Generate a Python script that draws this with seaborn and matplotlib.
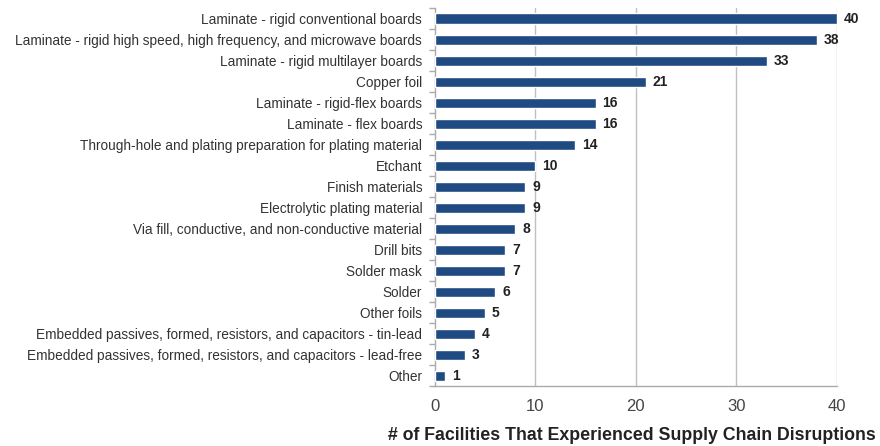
import matplotlib
matplotlib.use("Agg")
import matplotlib.pyplot as plt
import seaborn as sns
import pandas as pd
import numpy as np
from matplotlib.ticker import FixedLocator

categories = [
    "Laminate - rigid conventional boards",
    "Laminate - rigid high speed, high frequency, and microwave boards",
    "Laminate - rigid multilayer boards",
    "Copper foil",
    "Laminate - rigid-flex boards",
    "Laminate - flex boards",
    "Through-hole and plating preparation for plating material",
    "Etchant",
    "Finish materials",
    "Electrolytic plating material",
    "Via fill, conductive, and non-conductive material",
    "Drill bits",
    "Solder mask",
    "Solder",
    "Other foils",
    "Embedded passives, formed, resistors, and capacitors - tin-lead",
    "Embedded passives, formed, resistors, and capacitors - lead-free",
    "Other",
]
values = [40, 38, 33, 21, 16, 16, 14, 10, 9, 9, 8, 7, 7, 6, 5, 4, 3, 1]
x_ticks = [0, 10, 20, 30, 40]
x_label = "# of Facilities That Experienced Supply Chain Disruptions"

df = pd.DataFrame({"category": categories, "value": values})

sns.set_theme(style="white")
plt.rcParams["font.family"] = ["Liberation Sans", "DejaVu Sans"]

fig = plt.figure(figsize=(8.8, 4.46), dpi=100)
ax = fig.add_axes([0.494, 0.134, 0.457, 0.848])

sns.barplot(data=df, x="value", y="category", orient="h", color="#1F4A82",
            saturation=1, width=0.48, ax=ax, zorder=3)

ax.set_xlim(0, 40)
ax.set_ylim(len(categories) - 0.5, -0.5)
ax.set_xticks(x_ticks)
ax.set_xticklabels([str(t) for t in x_ticks], fontsize=12, color="#444444")
ax.set_ylabel("")
ax.set_xlabel("")
ax.tick_params(axis="y", length=0, labelsize=9.8, colors="#333333", pad=9)
ax.tick_params(axis="x", length=4, color="#aaaaaa", direction="out", pad=5)
ax.yaxis.set_minor_locator(FixedLocator(np.arange(-0.5, len(categories), 1.0)))
ax.tick_params(axis="y", which="minor", length=4, color="#aaaaaa", left=True)

for t in x_ticks[1:]:
    ax.axvline(t, color="#c0c0c0", lw=1, zorder=1)

for s in ["top", "right"]:
    ax.spines[s].set_visible(False)
for s in ["left", "bottom"]:
    ax.spines[s].set_color("#aaaaaa")
    ax.spines[s].set_linewidth(1)

for i, v in enumerate(values):
    ax.text(v + 0.7, i, str(v), va="center", ha="left", fontsize=10,
            fontweight="bold", color="#222222")

fig.text(0.995, 0.013, x_label, ha="right", va="baseline", fontsize=12.8,
         fontweight="bold", color="#222222")

fig.savefig("out.png", dpi=100)
